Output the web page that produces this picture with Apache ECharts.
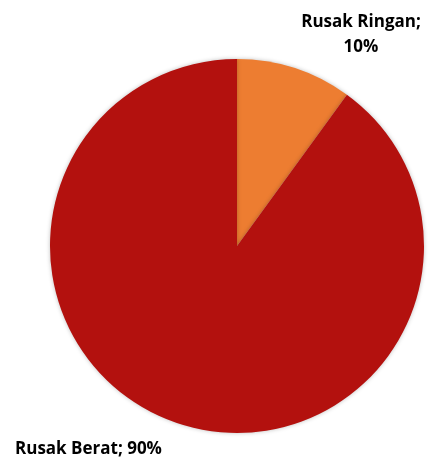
<!DOCTYPE html>
<html>
<head>
<meta charset="utf-8">
<script src="https://cdn.jsdelivr.net/npm/echarts@6/dist/echarts.min.js"></script>
<style>
  html, body { margin: 0; padding: 0; background: #fff; }
  #chart { width: 431px; height: 459px; }
</style>
</head>
<body>
<div id="chart"></div>
<script>
// Damage categories and their shares (percent)
const categories = ['Rusak Ringan', 'Rusak Berat'];
const shares = [10, 90];
const colors = ['#ED7D31', '#B3110E'];

// Where each label's text sits (anchor point, alignment)
const labelSpots = [
  { x: 361, y: 35, align: 'center' },
  { x: 15, y: 449, align: 'left' }
];

const chart = echarts.init(document.getElementById('chart'), null, { renderer: 'canvas' });

chart.setOption({
  animation: false,
  series: [{
    type: 'pie',
    center: [237, 246],
    radius: 187,
    startAngle: 90,
    clockwise: true,
    silent: true,
    data: categories.map((name, i) => ({
      name,
      value: shares[i],
      itemStyle: { color: colors[i] },
      label: {
        formatter: i === 0 ? '{b};\n{c}%' : '{b}; {c}%',
        align: labelSpots[i].align
      }
    })),
    itemStyle: {
      borderWidth: 0,
      shadowBlur: 4,
      shadowColor: 'rgba(0,0,0,0.25)'
    },
    label: {
      show: true,
      position: 'outside',
      overflow: 'none',
      bleedMargin: 0,
      fontFamily: 'Open Sans',
      fontWeight: 'bold',
      fontSize: 17,
      lineHeight: 25,
      color: '#000'
    },
    labelLine: { show: false },
    labelLayout: (params) => {
      const spot = labelSpots[params.dataIndex];
      return { x: spot.x, y: spot.y, align: spot.align, verticalAlign: 'middle' };
    }
  }]
});
</script>
</body>
</html>
